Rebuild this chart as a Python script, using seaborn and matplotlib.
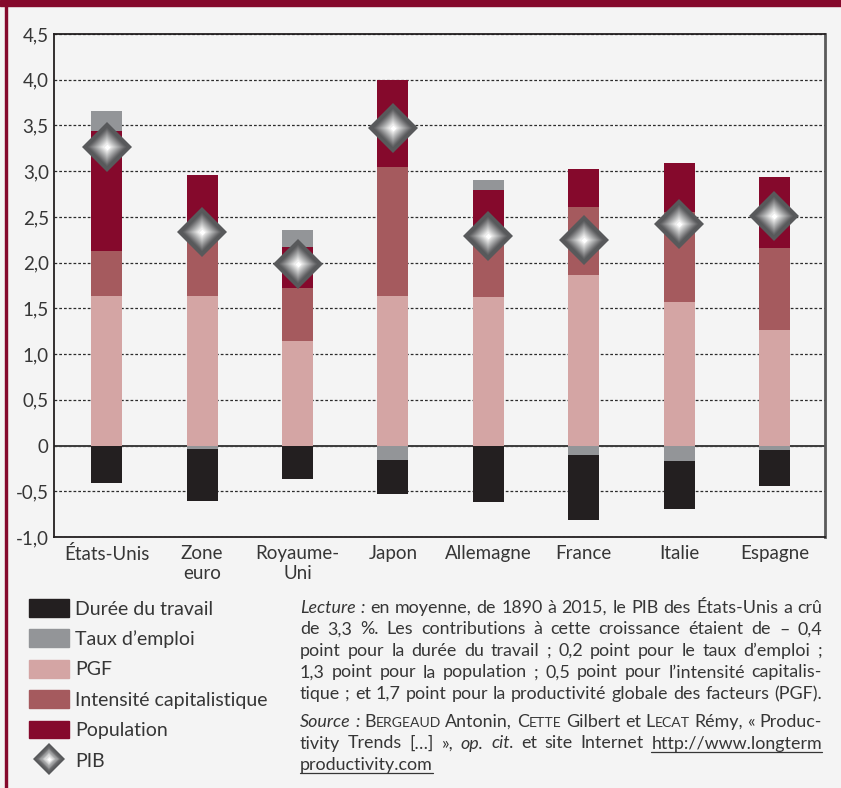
import matplotlib
matplotlib.use("Agg")
import matplotlib.pyplot as plt
from matplotlib.patches import Patch, Rectangle
from matplotlib.lines import Line2D
from matplotlib.ticker import FuncFormatter
import numpy as np
import seaborn as sns

# contributions a la croissance du PIB, 1890-2015 (points de %)
countries = ["États-Unis", "Zone\neuro", "Royaume-\nUni", "Japon", "Allemagne", "France", "Italie", "Espagne"]
duree = [-0.41, -0.57, -0.37, -0.37, -0.62, -0.71, -0.52, -0.39]
taux = [0.22, -0.04, 0.19, -0.16, 0.11, -0.10, -0.17, -0.05]
pgf = [1.63, 1.64, 1.14, 1.63, 1.62, 1.87, 1.57, 1.26]
intensite = [0.50, 0.66, 0.58, 1.42, 0.68, 0.74, 0.98, 0.90]
population = [1.31, 0.66, 0.45, 0.95, 0.49, 0.41, 0.54, 0.78]
pib = [3.26, 2.34, 1.99, 3.47, 2.29, 2.25, 2.42, 2.51]
yticks = [-1.0, -0.5, 0.0, 0.5, 1.0, 1.5, 2.0, 2.5, 3.0, 3.5, 4.0, 4.5]
legend_labels = ["Durée du travail", "Taux d’emploi", "PGF", "Intensité capitalistique", "Population", "PIB"]

RED = "#85092c"
C_DUREE = "#231f20"
C_TAUX = "#939598"
C_PGF = "#d4a5a4"
C_INT = "#a55a5e"
C_POP = RED
BG = "#f4f4f4"
TXT = "#363636"

sns.set_style("white")
plt.rcParams["font.family"] = ["Lato", "DejaVu Sans"]

W, H = 841, 788
fig = plt.figure(figsize=(W / 100, H / 100), dpi=100, facecolor=BG)
ax = fig.add_axes([54.3 / W, 1 - 537 / H, (825 - 54.3) / W, (537 - 34) / H])
ax.set_facecolor(BG)

# stacks
tp = np.clip(taux, 0, None)
tn = np.clip(taux, None, 0)
top_pgf = np.array(pgf)
top_int = top_pgf + np.array(intensite)
top_pop = top_int + np.array(population)
top_taux = top_pop + tp
bot_taux = tn
bot_duree = tn + np.array(duree)

bw = 0.325
for vals, col in [(top_taux, C_TAUX), (top_pop, C_POP), (top_int, C_INT), (top_pgf, C_PGF),
                  (bot_duree, C_DUREE), (bot_taux, C_TAUX)]:
    sns.barplot(x=countries, y=vals, color=col, saturation=1, width=bw, errorbar=None,
                linewidth=0, ax=ax, zorder=2)

# diamonds with a shaded look
dark = np.array([0x58, 0x59, 0x5b]) / 255
sizes = [25, 19, 17, 15, 13, 11, 9, 7, 5, 3]
shades = [dark] + [dark + (1 - dark) * f for f in np.linspace(0.08, 1.0, len(sizes) - 1)]
for i, (s, c) in enumerate(zip(sizes, shades)):
    sns.pointplot(x=countries, y=pib, linestyle="none", markers="D", markersize=s,
                  color=tuple(c), markeredgewidth=0, errorbar=None, ax=ax, zorder=10 + i)

ax.set_xlim(-0.55, 7.53)
ax.set_ylim(-1.0, 4.5)
ax.set_yticks(yticks)
ax.yaxis.set_major_formatter(FuncFormatter(
    lambda v, _: "0" if abs(v) < 1e-9 else f"{v:.1f}".replace(".", ",")))
ax.set_axisbelow(True)
ax.yaxis.grid(True, linestyle=(0, (2.2, 1.6)), color="#2b2b2b", lw=0.9)
ax.xaxis.grid(False)
ax.axhline(0, color="#3c3c3c", lw=1.4, zorder=1)
ax.set_xlabel("")
ax.set_ylabel("")
ax.tick_params(axis="both", length=0, labelsize=13.5, colors=TXT)
ax.tick_params(axis="y", pad=4)
ax.tick_params(axis="x", pad=6)
for side in ["left", "top", "bottom"]:
    ax.spines[side].set_color("#231f20")
    ax.spines[side].set_linewidth(1.3)
ax.spines["right"].set_color("#5a5a5a")
ax.spines["right"].set_linewidth(2)

# frame
fig.patches.append(Rectangle((0, 1 - 6 / H), 1, 6 / H, transform=fig.transFigure, color=RED))
fig.patches.append(Rectangle((5 / W, 0), 2 / W, 1, transform=fig.transFigure, color=RED))

# legend
handles = [Patch(color=c) for c in [C_DUREE, C_TAUX, C_PGF, C_INT, C_POP]]
handles.append(tuple(Line2D([], [], linestyle="none", marker="D", markersize=s * 0.67,
                            markerfacecolor=tuple(c), markeredgewidth=0)
                     for s, c in zip(sizes, shades)))
fig.legend(handles, legend_labels, loc="upper left", bbox_to_anchor=(29 / W, 1 - 599 / H),
           frameon=False, borderpad=0, borderaxespad=0, fontsize=14, handlelength=2.06,
           handleheight=1.03, handletextpad=0.3, labelspacing=0.61, labelcolor=TXT)

# note text, justified
FS = 12.9
lines = [
    ("_Lecture _: en moyenne, de 1890 à 2015, le PIB des États-Unis a crû", True, 613),
    ("de 3,3 %. Les contributions à cette croissance étaient de – 0,4", True, 634.5),
    ("point pour la durée du travail ; 0,2 point pour le taux d’emploi ;", True, 656),
    ("1,3 point pour la population ; 0,5 point pour l’intensité capitalis-", True, 677.5),
    ("tique ; et 1,7 point pour la productivité globale des facteurs (PGF).", True, 699),
    ("_Source _: ^Bergeaud Antonin, ^Cette Gilbert et ^Lecat Rémy, « Produc-", True, 727),
    ("tivity Trends […] », _op. _cit. et site Internet ~http://www.longterm", True, 748.5),
    ("~productivity.com", False, 770),
]
renderer = fig.canvas.get_renderer()


def runs_of(word):
    if word.startswith("_"):
        return [(word[1:], FS, "italic", False)]
    if word.startswith("^"):
        return [(word[1], FS, "normal", False), (word[2:].upper(), FS * 0.78, "normal", False)]
    if word.startswith("~"):
        return [(word[1:], FS, "normal", True)]
    return [(word, FS, "normal", False)]


def width(txt, size, style):
    t = fig.text(0, 0, txt, fontsize=size, style=style)
    w = t.get_window_extent(renderer).width
    t.remove()
    return w


space = width("a a", FS, "normal") - width("aa", FS, "normal")
x0, x1 = 300, 822
for line, justify, yb in lines:
    words = [runs_of(w) for w in line.split(" ")]
    widths = [[width(t, s, st) for t, s, st, u in ws] for ws in words]
    total = sum(sum(w) for w in widths)
    gap = (x1 - x0 - total) / (len(words) - 1) if justify and len(words) > 1 else space
    x = x0
    for ws, wl in zip(words, widths):
        for (t, s, st, u), w in zip(ws, wl):
            fig.text(x / W, 1 - yb / H, t, fontsize=s, style=st, color=TXT, ha="left", va="baseline")
            if u:
                fig.add_artist(Line2D([x / W, (x + w) / W], [1 - (yb + 3) / H] * 2,
                                      color=TXT, lw=0.9, transform=fig.transFigure))
            x += w
        x += gap

fig.savefig("out.png", dpi=100, facecolor=BG)
